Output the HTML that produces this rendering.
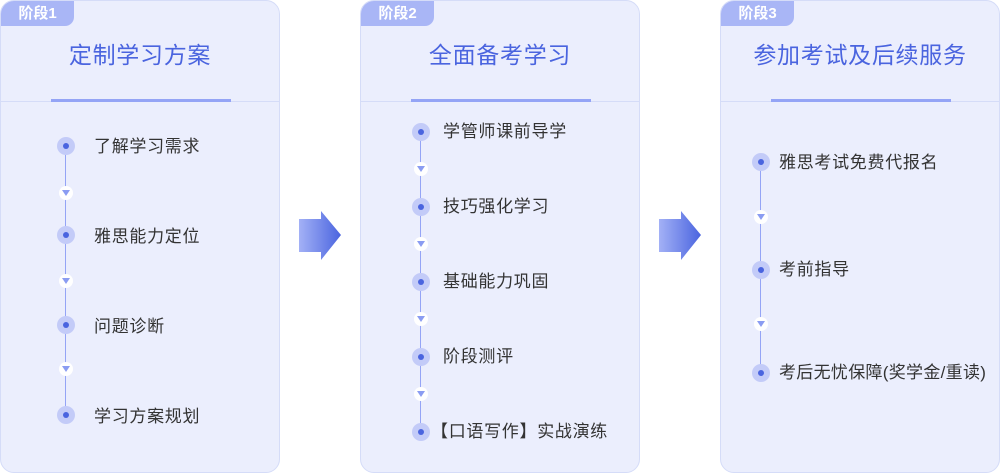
<!DOCTYPE html>
<html><head><meta charset="utf-8"><style>
body{margin:0;width:1000px;height:473px;background:#fff;position:relative;overflow:hidden;font-family:"Liberation Sans","Noto Sans CJK SC",sans-serif}
.card{position:absolute;top:0;width:278px;height:471px;background:#ebeefd;border:1px solid #d5dcf8;border-radius:14px;overflow:hidden}
.badge{position:absolute;left:0;top:0;width:73px;height:25px;background:#a9b6f6;color:#fff;font-size:15px;font-weight:bold;line-height:25px;text-align:center;border-bottom-right-radius:9px}
.title{position:absolute;top:35px;left:0;width:100%;text-align:center;color:#4a64df;font-size:23px;letter-spacing:0.7px}
.sep{position:absolute;top:100px;left:0;width:100%;height:1px;background:#d5dcf8}
.bar{position:absolute;top:98px;left:50px;width:180px;height:3px;background:#94a4f6}
.line{position:absolute;width:1px;background:#94a4f6}
.dot{position:absolute;width:18px;height:18px;border-radius:50%;background:#c3cbf8;margin:-9px 0 0 -9px}
.dot:after{content:"";position:absolute;left:6px;top:6px;width:6px;height:6px;border-radius:50%;background:#4a64df}
.tri{position:absolute;width:14px;height:14px;border-radius:50%;background:#fff;margin:-7px 0 0 -7px}
.tri:after{content:"";position:absolute;left:3px;top:4px;border-left:4px solid transparent;border-right:4px solid transparent;border-top:6px solid #8a9cf2}
.t{position:absolute;font-size:17px;letter-spacing:0.7px;color:#333;line-height:20px;margin-top:-10px;white-space:nowrap}
</style></head><body>
<div class="card" style="left:0">
<div class="badge">阶段1</div><div class="title">定制学习方案</div><div class="sep"></div><div class="bar"></div>
<div class="line" style="left:64px;top:145px;height:270px"></div>
<div class="dot" style="left:65px;top:145px"></div><div class="t" style="left:93px;top:146px">了解学习需求</div>
<div class="tri" style="left:65px;top:192px"></div>
<div class="dot" style="left:65px;top:234px"></div><div class="t" style="left:93px;top:236px">雅思能力定位</div>
<div class="tri" style="left:65px;top:280px"></div>
<div class="dot" style="left:65px;top:324px"></div><div class="t" style="left:93px;top:326px">问题诊断</div>
<div class="tri" style="left:65px;top:368px"></div>
<div class="dot" style="left:65px;top:414px"></div><div class="t" style="left:93px;top:416px">学习方案规划</div>
</div>
<div class="card" style="left:360px">
<div class="badge">阶段2</div><div class="title">全面备考学习</div><div class="sep"></div><div class="bar"></div>
<div class="line" style="left:59px;top:131px;height:300px"></div>
<div class="dot" style="left:60px;top:131px"></div><div class="t" style="left:82px;top:131px">学管师课前导学</div>
<div class="tri" style="left:60px;top:168px"></div>
<div class="dot" style="left:60px;top:206px"></div><div class="t" style="left:82px;top:206px">技巧强化学习</div>
<div class="tri" style="left:60px;top:243px"></div>
<div class="dot" style="left:60px;top:281px"></div><div class="t" style="left:82px;top:281px">基础能力巩固</div>
<div class="tri" style="left:60px;top:318px"></div>
<div class="dot" style="left:60px;top:356px"></div><div class="t" style="left:82px;top:356px">阶段测评</div>
<div class="tri" style="left:60px;top:393px"></div>
<div class="dot" style="left:60px;top:431px"></div><div class="t" style="left:70px;top:431px">【口语写作】实战演练</div>
</div>
<div class="card" style="left:720px">
<div class="badge">阶段3</div><div class="title">参加考试及后续服务</div><div class="sep"></div><div class="bar"></div>
<div class="line" style="left:39px;top:161px;height:211px"></div>
<div class="dot" style="left:40px;top:161px"></div><div class="t" style="left:58px;top:162px">雅思考试免费代报名</div>
<div class="tri" style="left:40px;top:216px"></div>
<div class="dot" style="left:40px;top:269px"></div><div class="t" style="left:58px;top:269px">考前指导</div>
<div class="tri" style="left:40px;top:323px"></div>
<div class="dot" style="left:40px;top:372px"></div><div class="t" style="left:58px;top:372px;letter-spacing:0.3px">考后无忧保障(奖学金/重读)</div>
</div>
<svg width="1000" height="473" style="position:absolute;left:0;top:0">
<defs><linearGradient id="g" x1="0" x2="1"><stop offset="0" stop-color="#a3b1f6"/><stop offset="1" stop-color="#4a64df"/></linearGradient></defs>
<polygon points="299,219 321,219 321,211 341,235 321,260 321,252 299,252" fill="url(#g)"/>
<polygon points="659,219 681,219 681,211 701,235 681,260 681,252 659,252" fill="url(#g)"/>
</svg>
</body></html>
